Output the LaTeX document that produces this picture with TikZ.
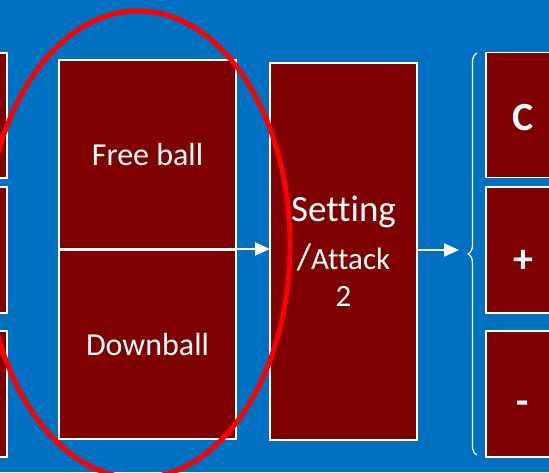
\documentclass[tikz,border=0pt]{standalone}
\usepackage{fontspec}
\setmainfont{Carlito}[Ligatures=NoCommon]
\usetikzlibrary{arrows.meta,decorations.pathreplacing}
\definecolor{bgblue}{HTML}{0070C0}
\definecolor{maroon}{HTML}{7F0000}
\tikzset{
  box/.style={draw=white, line width=1.5pt, fill=maroon, text=white, inner sep=0pt, outer sep=0pt, align=center},
  bigbold/.style={font=\bfseries\fontsize{40}{46}\selectfont, text depth=0pt},
  arr/.style={draw=white, line width=2pt, -{Triangle[length=15pt,width=13pt]}},
  ring/.style={draw=red, line width=5pt},
  bracestyle/.style={draw=white, line width=1.2pt, decorate, decoration={brace, amplitude=9pt}},
}
\begin{document}
\begin{tikzpicture}[x=1pt,y=-1pt]
\useasboundingbox (0,0) rectangle (549,472);
\clip (0,0) rectangle (549,472);
\fill[bgblue] (0,0) rectangle (549,472);
% left column
\node[box, minimum width=20, minimum height=125] (l1) at (-3,115.5) {};
\node[box, minimum width=20, minimum height=126] (l2) at (-3,250) {};
\node[box, minimum width=20, minimum height=126] (l3) at (-3,394) {};
% middle
\node[box, minimum width=177, minimum height=189, font=\fontsize{32}{37}\selectfont] (fb) at (147.5,154.5) {Free ball};
\node[box, minimum width=177, minimum height=189, font=\fontsize{32}{37}\selectfont] (db) at (147.5,344.5) {Downball};
\node[box, minimum width=147, minimum height=377, font=\fontsize{37}{41}\selectfont] (set) at (343.5,251.5)
  {\raisebox{2pt}{Setting}\\[5pt]/{\fontsize{31}{37}\selectfont Attack}\\[-4pt]{\fontsize{31}{37}\selectfont 2}};
% right column
\node[box, minimum width=74, minimum height=125, bigbold, text height=30pt] (r1) at (523,115) {C};
\node[box, minimum width=74, minimum height=126, bigbold, text height=44pt] (r2) at (523,250) {+};
\node[box, minimum width=74, minimum height=126, bigbold, text height=40pt] (r3) at (523,394) {-};
% brace
\coordinate (bb) at (477,455);
\coordinate (bt) at (477,53);
\draw[bracestyle] (bb) -- (bt);
\coordinate (tip) at (459,250);
% arrows
\draw[arr] (fb.south east) -- (fb.south east -| set.west);
\draw[arr] (set.east |- tip) -- (tip);
% red ellipse
\draw[ring] (138,244.5) ellipse [x radius=152, y radius=233.5];
\end{tikzpicture}
\end{document}
